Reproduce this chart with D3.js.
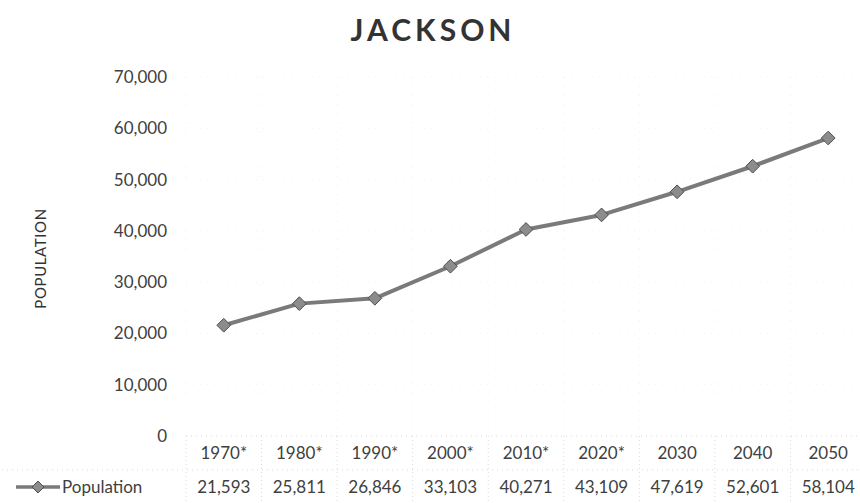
<!DOCTYPE html>
<html>
<head>
<meta charset="utf-8">
<script src="https://cdn.jsdelivr.net/npm/d3@7"></script>
<style>
  html, body { margin: 0; padding: 0; background: #fff; }
  svg { display: block; }
  text { font-family: Lato, "Open Sans", sans-serif; }
</style>
</head>
<body>
<svg id="chart" width="860" height="503"></svg>
<script>
const title = "JACKSON";
const yAxisTitle = "POPULATION";
const seriesName = "Population";
const categories = ["1970*", "1980*", "1990*", "2000*", "2010*", "2020*", "2030", "2040", "2050"];
const population = [21593, 25811, 26846, 33103, 40271, 43109, 47619, 52601, 58104];
const yTicks = [0, 10000, 20000, 30000, 40000, 50000, 60000, 70000];

const svg = d3.select("#chart");
const plot = { left: 186, right: 866, top: 77, bottom: 436 };
const rowH = 34;

const x = d3.scaleBand().domain(categories).range([plot.left, plot.right]).padding(0);
const y = d3.scaleLinear().domain([0, 70000]).range([plot.bottom, plot.top]);
const fmt = d3.format(",");
const textCol = "#404040";
const gridCol = "#d9d9d9";

// Title
svg.append("text")
  .attr("x", 433).attr("y", 41)
  .attr("text-anchor", "middle")
  .attr("font-size", 30).attr("font-weight", "bold")
  .attr("letter-spacing", 4)
  .attr("fill", "#333")
  .text(title);

// Y axis title
svg.append("text")
  .attr("transform", `translate(46, ${(plot.top + plot.bottom) / 2 + 2}) rotate(-90)`)
  .attr("text-anchor", "middle")
  .attr("font-size", 15)
  .attr("letter-spacing", 0.6)
  .attr("fill", "#333")
  .text(yAxisTitle);

// Horizontal grid (very faint dotted)
svg.append("g").selectAll("line")
  .data(yTicks.filter(d => d > 0))
  .join("line")
  .attr("x1", plot.left).attr("x2", plot.right)
  .attr("y1", d => y(d)).attr("y2", d => y(d))
  .attr("stroke", "#f2f2f2").attr("stroke-width", 1)
  .attr("stroke-dasharray", "1,6");

// Vertical grid / column boundaries
const bounds = categories.map(c => x(c)).concat([plot.right]);
svg.append("g").selectAll("line")
  .data(bounds)
  .join("line")
  .attr("x1", d => d).attr("x2", d => d)
  .attr("y1", plot.top).attr("y2", plot.bottom)
  .attr("stroke", "#efefef").attr("stroke-width", 1)
  .attr("stroke-dasharray", "1,8");
svg.append("g").selectAll("line")
  .data(bounds)
  .join("line")
  .attr("x1", d => d).attr("x2", d => d)
  .attr("y1", plot.bottom).attr("y2", plot.bottom + 2 * rowH)
  .attr("stroke", gridCol).attr("stroke-width", 1)
  .attr("stroke-dasharray", "1,3");

// Table horizontal lines
svg.append("line")
  .attr("x1", plot.left).attr("x2", plot.right)
  .attr("y1", plot.bottom).attr("y2", plot.bottom)
  .attr("stroke", gridCol).attr("stroke-width", 1)
  .attr("stroke-dasharray", "1,4");
svg.append("line")
  .attr("x1", 2).attr("x2", plot.right)
  .attr("y1", plot.bottom + rowH).attr("y2", plot.bottom + rowH)
  .attr("stroke", gridCol).attr("stroke-width", 1)
  .attr("stroke-dasharray", "1,4");

// Y axis
const yAxis = d3.axisLeft(y).tickValues(yTicks).tickFormat(fmt).tickSize(0).tickPadding(0);
const gy = svg.append("g").attr("transform", `translate(167,0)`).call(yAxis);
gy.select(".domain").remove();
gy.selectAll("text")
  .attr("font-size", 17).attr("fill", textCol)
  .attr("font-family", "Lato, 'Open Sans', sans-serif");

// Data table: category row
const catRow = plot.bottom + rowH / 2;
svg.append("g").selectAll("text")
  .data(categories)
  .join("text")
  .attr("x", d => x(d) + x.bandwidth() / 2)
  .attr("y", catRow)
  .attr("dy", "0.35em")
  .attr("text-anchor", "middle")
  .attr("font-size", 17).attr("fill", textCol)
  .text(d => d);

// Data table: values row
const valRow = plot.bottom + rowH * 1.5;
svg.append("g").selectAll("text")
  .data(population)
  .join("text")
  .attr("x", (d, i) => x(categories[i]) + x.bandwidth() / 2)
  .attr("y", valRow)
  .attr("dy", "0.35em")
  .attr("text-anchor", "middle")
  .attr("font-size", 17).attr("fill", textCol)
  .text(d => fmt(d));

// Legend key in table
const lineCol = "#7a7a7a";
const markerFill = "#8c8c8c";
const markerStroke = "#4d4d4d";
svg.append("line")
  .attr("x1", 16).attr("x2", 60)
  .attr("y1", valRow).attr("y2", valRow)
  .attr("stroke", lineCol).attr("stroke-width", 3.5);
svg.append("path")
  .attr("transform", `translate(38,${valRow})`)
  .attr("d", d3.symbol(d3.symbolDiamond2, 90)())
  .attr("fill", markerFill).attr("stroke", markerStroke).attr("stroke-width", 1);
svg.append("text")
  .attr("x", 62).attr("y", valRow).attr("dy", "0.35em")
  .attr("font-size", 17).attr("fill", textCol)
  .text(seriesName);

// Line
const line = d3.line()
  .x((d, i) => x(categories[i]) + x.bandwidth() / 2)
  .y(d => y(d));
svg.append("path")
  .datum(population)
  .attr("d", line)
  .attr("fill", "none")
  .attr("stroke", lineCol)
  .attr("stroke-width", 4)
  .attr("stroke-linejoin", "round");

// Markers
svg.append("g").selectAll("path")
  .data(population)
  .join("path")
  .attr("transform", (d, i) => `translate(${x(categories[i]) + x.bandwidth() / 2},${y(d)})`)
  .attr("d", d3.symbol(d3.symbolDiamond2, 120)())
  .attr("fill", markerFill)
  .attr("stroke", markerStroke)
  .attr("stroke-width", 1);
</script>
</body>
</html>
